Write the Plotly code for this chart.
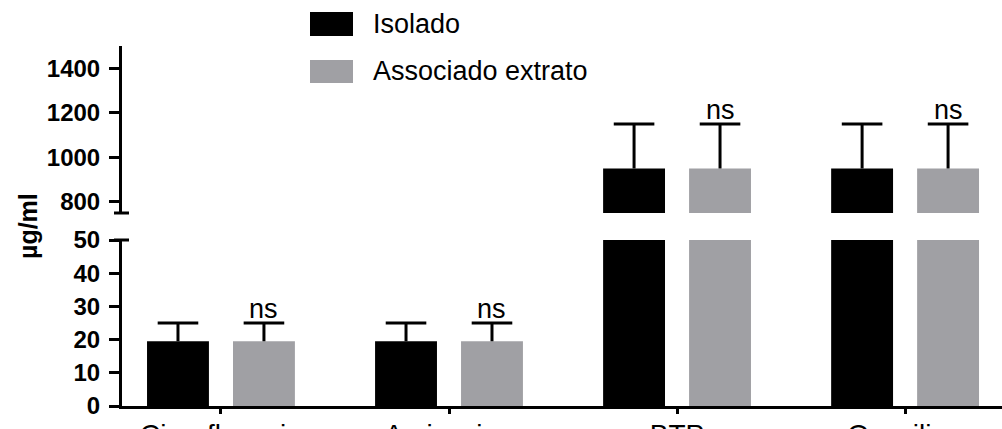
import plotly.graph_objects as go

# ---- data ----
categories = ["Ciprofloxacin", "Amicacina", "BTP", "Oxacilina"]
isolado = [19.5, 19.5, 950, 950]
isolado_err = [5.5, 5.5, 200, 200]
associado = [19.5, 19.5, 950, 950]
associado_err = [5.5, 5.5, 200, 200]
ns_labels = ["ns", "ns", "ns", "ns"]
series_names = ["Isolado", "Associado extrato"]
lower_ticks = [0, 10, 20, 30, 40, 50]
upper_ticks = [800, 1000, 1200, 1400]

# ---- style ----
BLACK = "#000000"
GRAY = "#a0a0a4"
FONT = "Liberation Sans, Arial, Helvetica, sans-serif"
W, H = 1002, 429
L, R, T, B = 122, 1002, 46, 406
BARGAP = 0.246
BARGROUPGAP = 0.28


def px_x(p):
    return (p - L) / (R - L)


def px_y(p):
    return (B - p) / (B - T)


x_idx = list(range(len(categories)))
slot = (1 - BARGAP) / 2  # width of one bar slot in category units

fig = go.Figure()
series = [(isolado, isolado_err, BLACK, series_names[0], -slot / 2),
          (associado, associado_err, GRAY, series_names[1], slot / 2)]
for vals, errs, col, name, off in series:
    tops = [v + e for v, e in zip(vals, errs)]
    for xa, ya in [("x", "y"), ("x2", "y2")]:
        # bar + error stem (no caps)
        fig.add_trace(go.Bar(
            x=x_idx, y=vals, name=name, marker=dict(color=col, line=dict(width=0)),
            error_y=dict(type="data", array=errs, arrayminus=[0] * len(errs), symmetric=False,
                         color=BLACK, thickness=3, width=0),
            xaxis=xa, yaxis=ya, showlegend=False,
        ))
        # error cap at top only
        fig.add_trace(go.Scatter(
            x=[i + off for i in x_idx], y=tops, mode="markers",
            marker=dict(symbol="line-ew", size=29, color=BLACK, line=dict(color=BLACK, width=3)),
            xaxis=xa, yaxis=ya, showlegend=False, hoverinfo="skip", cliponaxis=True,
        ))

split_lo = px_y(240)
split_hi = px_y(213)

axis_common = dict(showgrid=False, zeroline=False, showline=True, linecolor=BLACK, linewidth=3,
                   ticks="outside", tickcolor=BLACK, tickwidth=3, ticklen=10, automargin=False,
                   tickfont=dict(family=FONT, size=24, color=BLACK, weight="bold"))

fig.update_layout(
    width=W, height=H,
    margin=dict(l=L, r=W - R, t=T, b=H - B, pad=0, autoexpand=False),
    paper_bgcolor="white", plot_bgcolor="white",
    barmode="group", bargap=BARGAP, bargroupgap=BARGROUPGAP,
    showlegend=False,
    xaxis=dict(domain=[0, 1], anchor="y", range=[-0.434, 3.425], tickmode="array",
               tickvals=x_idx, ticktext=categories, showgrid=False, zeroline=False,
               showline=True, linecolor=BLACK, linewidth=3, ticks="outside", tickcolor=BLACK,
               tickwidth=3, ticklen=5, automargin=False, ticklabelstandoff=-4,
               tickfont=dict(family=FONT, size=28, color=BLACK)),
    xaxis2=dict(domain=[0, 1], anchor="y2", matches="x", visible=False, automargin=False),
    yaxis=dict(domain=[0, split_lo], anchor="x", range=[0, 50], tickmode="array",
               tickvals=lower_ticks, ticklabelstandoff=4, **axis_common),
    yaxis2=dict(domain=[split_hi, 1], anchor="x2", range=[750, 1500], tickmode="array",
                tickvals=upper_ticks, ticklabelstandoff=4, **axis_common),
)

# axis-break caps
for yy in (split_lo, split_hi):
    fig.add_shape(type="line", xref="paper", yref="paper", x0=px_x(114), x1=px_x(129),
                  y0=yy, y1=yy, line=dict(color=BLACK, width=3))

# "ns" labels above the Associado bars
for i, lab in enumerate(ns_labels):
    top = associado[i] + associado_err[i]
    upper = top > 50
    fig.add_annotation(x=x_idx[i] + slot / 2, y=top, xref="x2" if upper else "x",
                       yref="y2" if upper else "y",
                       text=lab, showarrow=False, yanchor="bottom", yshift=-3,
                       font=dict(family=FONT, size=27, color=BLACK))

# manual legend
legend_rows = [(series_names[0], BLACK, 12, 36), (series_names[1], GRAY, 60, 83)]
for name, col, y0, y1 in legend_rows:
    fig.add_shape(type="rect", xref="paper", yref="paper", x0=px_x(310), x1=px_x(353),
                  y0=px_y(y1), y1=px_y(y0), fillcolor=col, line=dict(width=0))
    fig.add_annotation(xref="paper", yref="paper", x=px_x(371), y=px_y((y0 + y1) / 2),
                       text=name, showarrow=False, xanchor="left", yanchor="middle",
                       font=dict(family=FONT, size=27, color=BLACK))

# y axis title
fig.add_annotation(xref="paper", yref="paper", x=px_x(28), y=px_y(226), text="µg/ml",
                   textangle=-90, showarrow=False, xanchor="center", yanchor="middle",
                   font=dict(family=FONT, size=25, color=BLACK, weight="bold"))

fig.write_html("out.html", config={"displayModeBar": False},
               post_script="document.body.style.margin='0';document.body.style.overflow='hidden';")
